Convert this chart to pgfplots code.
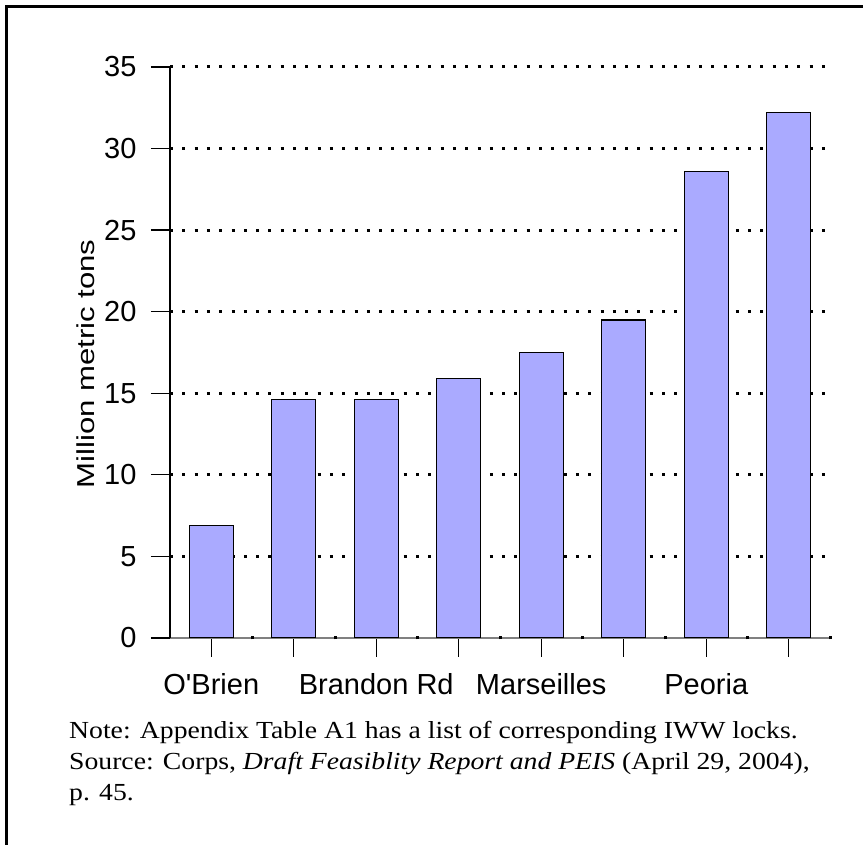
\documentclass[border=0pt]{standalone}
\usepackage{pgfplots}
\pgfplotsset{compat=1.18}
\usepackage{fontspec}
\setmainfont{Liberation Serif}
\newfontfamily\arial{Liberation Sans}
\definecolor{barblue}{RGB}{170,170,255}

\begin{document}
\begin{tikzpicture}[x=1pt,y=1pt]
\begin{axis}[%
    at={(170pt,207pt)}, anchor=south west,
    scale only axis, width=660pt, height=571pt,
    xmin=0.5, xmax=8.5, ymin=0, ymax=35,
    axis x line*=bottom, axis y line*=left,
    x axis line style={-, draw=gray, line width=2pt},
    y axis line style={-, draw=black, line width=1.4pt},
    ytick={5,10,...,35},
    extra y ticks={0}, extra y tick style={grid=none},
    xtick={1,...,8},
    xticklabels={O'Brien,,Brandon Rd,,Marseilles,,Peoria,},
    tick align=outside, major tick length=19pt,
    tick style={black, line width=1.3pt},
    ymajorgrids,
    grid style={black, line width=3pt, dash pattern=on 3pt off 9.3pt},
    extra x ticks={1.5,2.5,...,8.5}, extra x tick labels={},
    extra x tick style={tick align=center, major tick length=3pt,
        tick style={line width=3pt}},
    /pgf/number format/assume math mode=true,
    ticklabel style={font=\arial\fontsize{29}{29}\selectfont},
    yticklabel style={xshift=-11pt},
    xticklabel style={yshift=-13pt},
    ylabel={\scalebox{1.27}[1]{Million metric tons}},
    ylabel style={font=\arial\fontsize{24.5}{24.5}\selectfont,
        at={(axis description cs:-0.128,0.48)}, anchor=center},
    ybar, bar width=44pt,
    ]%
\addplot[draw=black, line width=1.3pt, fill=barblue]
coordinates {
    (1,6.9) (2,14.6) (3,14.6) (4,15.9)
    (5,17.5) (6,19.5) (7,28.6) (8,32.2)
};
\end{axis}
\draw[line width=3pt] (6.5,-10) -- (6.5,838.5) -- (880,838.5);
\begin{scope}[every node/.style={anchor=base west, inner sep=0pt,
    font=\fontsize{24.5}{28}\selectfont}]
\node at (69,106) {\scalebox{1.13}[1]{Note: Appendix Table A1 has a list of corresponding IWW locks.}};
\node at (69,75) {\scalebox{1.13}[1]{Source: Corps, \textit{Draft Feasiblity Report and PEIS} (April 29, 2004),}};
\node at (69,44) {\scalebox{1.13}[1]{p. 45.}};
\end{scope}
\pgfresetboundingbox
\path[use as bounding box] (0,0) rectangle (863,845);
\end{tikzpicture}
\end{document}
